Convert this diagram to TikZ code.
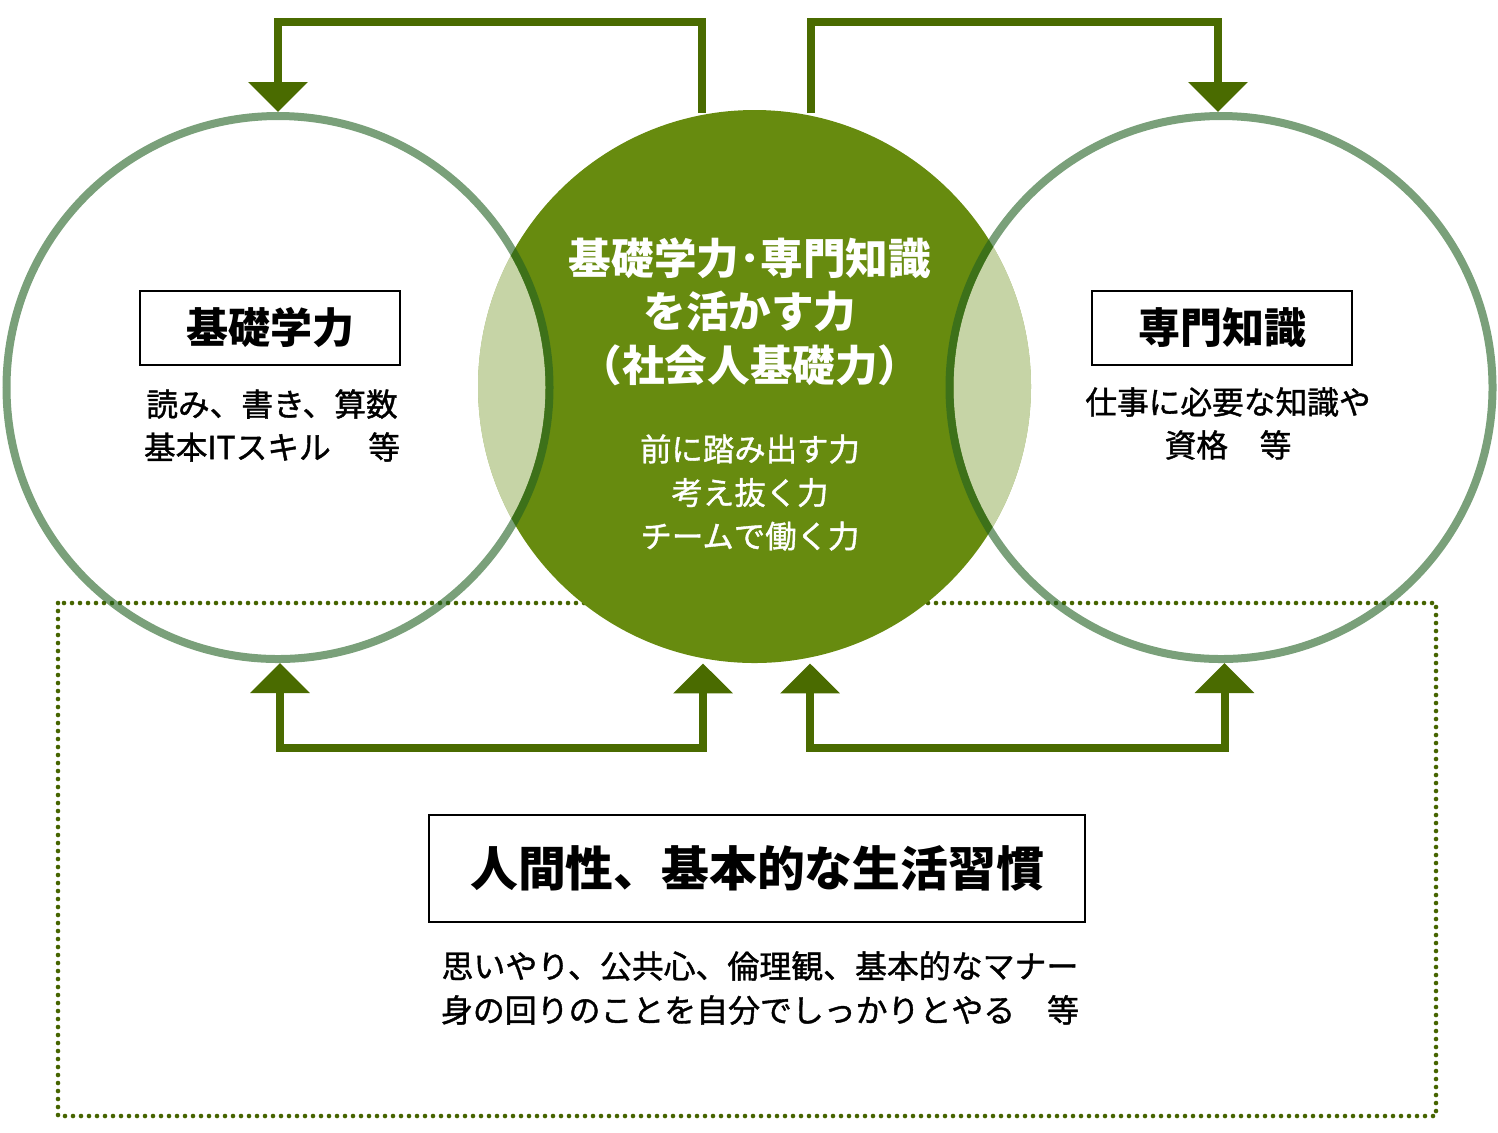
\documentclass[tikz,border=0pt]{standalone}
\usepackage{fontspec}
\setmainfont{Noto Sans CJK JP}
\newfontfamily\medfont{Noto Sans CJK JP}[FakeBold=1.2]
\usetikzlibrary{arrows.meta,calc}
\definecolor{cgreen}{RGB}{103,139,15}
\definecolor{agreen}{RGB}{74,107,0}
\definecolor{dgreen}{RGB}{70,100,0}
\definecolor{rgreen}{RGB}{33,97,33}
\begin{document}
\begin{tikzpicture}[x=0.5pt,y=-0.5pt,
  arr/.style={draw=agreen,line width=4pt,-{Triangle[width=29pt,length=15pt]}},
  arrboth/.style={draw=agreen,line width=4pt,{Triangle[width=29pt,length=15pt]}-{Triangle[width=29pt,length=15pt]}},
  ring/.style={circle,draw=none,line width=4pt,minimum size=271.5pt,inner sep=0pt},
  ringline/.style={rgreen,draw opacity=0.6,line width=4pt},
  tbox/.style={draw=black,line width=1pt,inner sep=0pt,font=\bfseries\fontsize{21}{25}\selectfont},
  body/.style={align=center,inner sep=0pt,font=\medfont\fontsize{15.85}{21.5}\selectfont},
  ctitle/.style={align=center,inner sep=0pt,text=white,font=\bfseries\fontsize{21.3}{26.75}\selectfont},
  csub/.style={align=center,inner sep=0pt,text=white,font=\medfont\fontsize{15.7}{21.75}\selectfont}]
\useasboundingbox (0,0) rectangle (1498,1132);
% dotted frame
\draw[dgreen,line width=2.3pt,line cap=round,dash pattern=on 0pt off 4pt] (58,603) rectangle (1436,1116);
% circles (named)
\node[circle,fill=cgreen,minimum size=276.5pt,inner sep=0pt] (cc) at (754.5,386.5) {};
\node[ring] (lc) at (278,387.5) {};
\node[ring] (rc) at (1221,387.5) {};
% lens highlights
\begin{scope}
\clip (754.5,386.5) circle[radius=276.5];
\fill[white,opacity=0.63] (278,387.5) circle[radius=267.5];
\fill[white,opacity=0.63] (1221,387.5) circle[radius=267.5];
\end{scope}
% ring outlines
\draw[ringline] (lc.center) circle[radius=271.5];
\draw[ringline] (rc.center) circle[radius=271.5];
% top arrows
\coordinate (s1) at (702,113);
\coordinate (s2) at (810.5,113);
\draw[arr] (s1) -- (702,22) -| (lc.north);
\draw[arr] (s2) -- (810.5,22) -| ($(rc.north)+(-3,0)$);
% bottom arrows
\draw[arrboth] ($(lc.south)+(2,0)$) |- ($(cc.south)+(-51.5,85)$) -- ($(cc.south)+(-51.5,0)$);
\draw[arrboth] ($(cc.south)+(55.5,0)$) |- ($(rc.south)+(3.5,85)$) -- ($(rc.south)+(3.5,0)$);
% boxes
\node[tbox,minimum width=130pt,minimum height=37pt] (lb) at (270,328) {基礎学力};
\node[tbox,minimum width=130pt,minimum height=37pt] (rb) at (1222,328) {専門知識};
\node[tbox,minimum width=328pt,minimum height=53.5pt,font=\bfseries\fontsize{23.9}{28}\selectfont] (bb) at (757,868.5) {人間性、基本的な生活習慣};
% texts
\node[body,text width=128pt] (lt) at (272,425.5) {読み、書き、算数\\基本ITスキル\hfill 等};
\node[body] (rt) at (1228,423.5) {仕事に必要な知識や\\資格　等};
\node[ctitle] (ct) at (750,311.5) {基礎学力･専門知識\\を活かす力\\（社会人基礎力）};
\node[csub] (cs) at (750,492.5) {前に踏み出す力\\考え抜く力\\チームで働く力};
\node[body,font=\medfont\fontsize{15.95}{22}\selectfont] (bt) at (760,988) {思いやり、公共心、倫理観、基本的なマナー\\身の回りのことを自分でしっかりとやる　等};
\end{tikzpicture}
\end{document}
